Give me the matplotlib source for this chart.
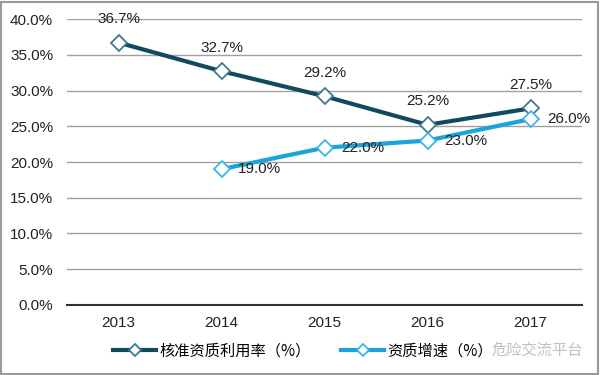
import matplotlib.pyplot as plt
from matplotlib.patches import Rectangle

years = ['2013', '2014', '2015', '2016', '2017']
util_rate = [36.7, 32.7, 29.2, 25.2, 27.5]      # 核准资质利用率
growth_years = ['2014', '2015', '2016', '2017']
growth_rate = [19.0, 22.0, 23.0, 26.0]          # 资质增速
yticks = [0, 5, 10, 15, 20, 25, 30, 35, 40]

dark = '#0f4a5e'
dark_edge = '#3f7a8c'
light = '#1ca3dc'
light_edge = '#3cb4e6'

num_font = 'Liberation Sans'
cjk = ['Noto Sans CJK SC', 'DejaVu Sans']

fig = plt.figure(figsize=(6, 3.75), dpi=100)
ax = fig.add_axes([0.1117, 0.1867, 0.8583, 0.7626])

x1 = [years.index(y) for y in years]
x2 = [years.index(y) for y in growth_years]

ax.plot(x1, util_rate, color=dark, lw=3, marker='D', ms=8,
        mfc='white', mec=dark_edge, mew=1.3, label='核准资质利用率（%）', zorder=3)
ax.plot(x2, growth_rate, color=light, lw=3, marker='D', ms=8,
        mfc='white', mec=light_edge, mew=1.3, label='资质增速（%）', zorder=3)

for x, v in zip(x1, util_rate):
    ax.annotate(f'{v:.1f}%', (x, v), xytext=(0, 17), textcoords='offset points',
                ha='center', va='center', fontsize=11, family=num_font, color='#222222')
for x, v in zip(x2, growth_rate):
    ax.annotate(f'{v:.1f}%', (x, v), xytext=(12, 0), textcoords='offset points',
                ha='left', va='center', fontsize=11, family=num_font, color='#222222')

ax.set_xlim(-0.5, 4.5)
ax.set_ylim(0, 40)
ax.set_yticks(yticks)
ax.set_yticklabels([f'{t:.1f}%' for t in yticks], family=num_font, fontsize=11, color='#222222')
ax.set_xticks(range(len(years)))
ax.set_xticklabels(years, family=num_font, fontsize=11, color='#222222')
ax.tick_params(length=0, pad=8)
ax.tick_params(axis='y', pad=10)
ax.grid(axis='y', color='#a0a0a0', lw=1)
ax.set_axisbelow(True)
for s in ['top', 'right', 'left']:
    ax.spines[s].set_visible(False)
ax.spines['bottom'].set_color('#333333')
ax.spines['bottom'].set_linewidth(1.5)

leg = fig.legend(loc='center', bbox_to_anchor=(0.505, 0.065), ncol=2, frameon=False,
                 prop={'family': cjk, 'size': 11}, handlelength=2.8, markerscale=0.75,
                 columnspacing=2.0, handletextpad=0.2)

fig.text(0.895, 0.065, '危险交流平台', family=cjk, fontsize=11,
         color='#b8b8b8', ha='center', va='center', alpha=0.9)

fig.patches.append(Rectangle((0.002, 0.003), 0.995, 0.993, transform=fig.transFigure,
                             fill=False, edgecolor='#9a9a9a', lw=1.5))

fig.savefig('out.png', dpi=100)
